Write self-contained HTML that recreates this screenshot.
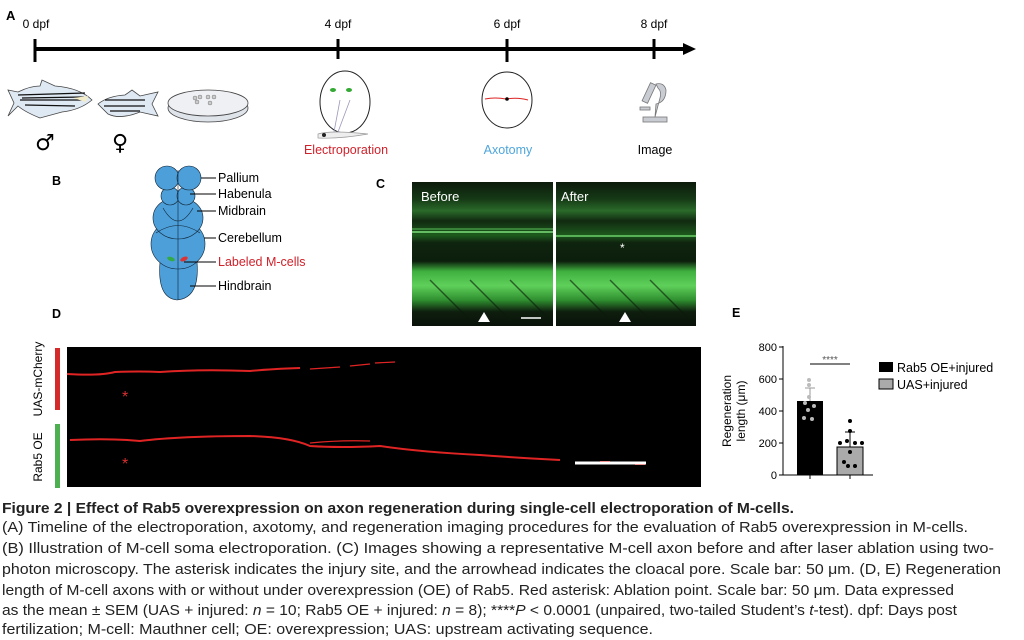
<!DOCTYPE html>
<html><head><meta charset="utf-8"><style>
html,body{margin:0;padding:0;background:#fff;width:1024px;height:640px;overflow:hidden}
svg{display:block;font-family:"Liberation Sans",sans-serif}
</style></head><body>
<svg width="1024" height="640" viewBox="0 0 1024 640">
<text x="6" y="20" font-size="13" font-weight="bold">A</text>
<g font-size="12" text-anchor="middle">
<text x="36" y="28">0 dpf</text><text x="338" y="28">4 dpf</text><text x="507" y="28">6 dpf</text><text x="654" y="28">8 dpf</text>
</g>
<line x1="34" y1="49" x2="685" y2="49" stroke="#000" stroke-width="4"/>
<polygon points="683,43 696,49 683,55" fill="#000"/>
<g stroke="#000" stroke-width="3"><line x1="35" y1="39" x2="35" y2="62"/><line x1="338" y1="39" x2="338" y2="59"/><line x1="507" y1="39" x2="507" y2="62"/><line x1="654" y1="39" x2="654" y2="59"/></g>
<g stroke="#444" stroke-width="0.8">
<path d="M8,90 L18,92 Q30,86 40,86 L42,80 L55,86 Q80,88 92,100 Q80,110 62,112 L40,118 Q25,112 18,106 L8,116 L14,103 Z" fill="#dfe9f3"/>
<path d="M18,95 L85,93 M20,100 L82,100 M25,105 L75,106 M22,98 L84,97" stroke="#111" stroke-width="1.2"/>
<path d="M73,98 L88,96 L86,102 Z" fill="#f3ecc8" stroke="none"/>
<path d="M98,104 Q108,96 125,95 L132,90 L140,96 L158,92 L152,104 L158,116 L140,112 Q120,120 108,114 Z" fill="#dfe9f3"/>
<path d="M105,100 L145,100 M104,106 L145,106 M110,111 L140,111" stroke="#111" stroke-width="1.2"/>
<ellipse cx="208" cy="108" rx="40" ry="14" fill="#dfe3ea"/>
<ellipse cx="208" cy="103" rx="40" ry="13" fill="#eef0f4"/>
</g>
<g fill="#ccc" stroke="#777" stroke-width="0.5"><circle cx="195" cy="98" r="2"/><circle cx="200" cy="97" r="2"/><circle cx="197" cy="102" r="2"/><circle cx="208" cy="97" r="2"/><circle cx="214" cy="97" r="2"/><circle cx="210" cy="103" r="2"/></g>
<text x="45" y="150" font-size="22" text-anchor="middle" font-family="DejaVu Sans">♂</text>
<text x="120" y="150" font-size="22" text-anchor="middle" font-family="DejaVu Sans">♀</text>
<ellipse cx="345" cy="102" rx="25" ry="31" fill="#fff" stroke="#222" stroke-width="1"/>
<path d="M340,100 L334,132 M350,100 L338,132" stroke="#99b" stroke-width="0.8" fill="none"/>
<ellipse cx="333" cy="90" rx="3" ry="2" fill="#3a3"/><ellipse cx="349" cy="90" rx="3" ry="2" fill="#3a3"/>
<path d="M318,134 Q330,130 368,134 Q340,139 318,138 Z" fill="#eee" stroke="#999" stroke-width="0.7"/>
<circle cx="324" cy="135" r="2" fill="#222"/>
<text x="346" y="154" font-size="12.5" text-anchor="middle" fill="#d0222b">Electroporation</text>
<ellipse cx="507" cy="100" rx="25" ry="28" fill="#fff" stroke="#222" stroke-width="1"/>
<path d="M485,99 Q495,97 506,99 Q518,97 528,100" stroke="#d22" stroke-width="1" fill="none"/>
<circle cx="507" cy="99" r="1.8" fill="#000"/>
<text x="508" y="154" font-size="12.5" text-anchor="middle" fill="#4ea6dc">Axotomy</text>
<g stroke="#777" stroke-width="0.8" fill="#c9ccd2">
<rect x="643" y="117" width="24" height="5"/>
<path d="M655,117 L656,104 Q666,102 666,90 Q664,82 656,84 L658,88 Q662,92 660,98 Z"/>
<rect x="646" y="83" width="6" height="20" transform="rotate(25 649 93)"/>
<rect x="640" y="107" width="10" height="3"/>
</g>
<text x="655" y="154" font-size="12.5" text-anchor="middle">Image</text>
<text x="52" y="185" font-size="12.5" font-weight="bold">B</text>
<g fill="#4c9fd9" stroke="#123" stroke-width="0.6">
<path d="M160,262 Q157,298 177,300 Q200,298 197,262 Z"/>
<ellipse cx="178" cy="244" rx="27" ry="25"/>
<ellipse cx="178" cy="218" rx="25" ry="21"/>
<circle cx="170" cy="196" r="9"/><circle cx="186" cy="196" r="9"/>
<circle cx="167" cy="178" r="12"/><circle cx="189" cy="178" r="12"/>
<path d="M178,170 L178,300 M156,233 Q178,218 200,233 M163,208 Q178,234 193,208" fill="none"/>
</g>
<ellipse cx="171" cy="259" rx="4" ry="2" fill="#3a4" transform="rotate(20 171 259)"/>
<ellipse cx="184" cy="259" rx="4" ry="2" fill="#d33" transform="rotate(-25 184 259)"/>
<g stroke="#000" stroke-width="1"><line x1="201" y1="178" x2="216" y2="178"/><line x1="190" y1="194" x2="216" y2="194"/><line x1="197" y1="211" x2="216" y2="211"/><line x1="204" y1="238" x2="216" y2="238"/><line x1="184" y1="262" x2="216" y2="262"/><line x1="190" y1="286" x2="216" y2="286"/></g>
<g font-size="12.5"><text x="218" y="182">Pallium</text><text x="218" y="198">Habenula</text><text x="218" y="215">Midbrain</text><text x="218" y="242">Cerebellum</text><text x="218" y="266" fill="#d0222b">Labeled M-cells</text><text x="218" y="290">Hindbrain</text></g>
<text x="376" y="188" font-size="12.5" font-weight="bold">C</text>
<defs>
<linearGradient id="cg" x1="0" y1="0" x2="0" y2="1">
<stop offset="0" stop-color="#0c1a0c"/><stop offset="0.12" stop-color="#163a16"/><stop offset="0.2" stop-color="#2a6a2a"/><stop offset="0.27" stop-color="#112a11"/><stop offset="0.37" stop-color="#1d5a1d"/><stop offset="0.42" stop-color="#0f240f"/><stop offset="0.55" stop-color="#0c1e0c"/><stop offset="0.62" stop-color="#3fb03f"/><stop offset="0.72" stop-color="#5fd05a"/><stop offset="0.82" stop-color="#2f8f2f"/><stop offset="0.9" stop-color="#0e1e0e"/><stop offset="1" stop-color="#0a120a"/>
</linearGradient>
</defs>
<rect x="412" y="182" width="141" height="144" fill="url(#cg)"/>
<rect x="556" y="182" width="140" height="144" fill="url(#cg)"/>
<g stroke="#0a1a0a" stroke-width="1.5" opacity="0.6"><line x1="430" y1="280" x2="470" y2="320"/><line x1="470" y1="280" x2="510" y2="320"/><line x1="510" y1="280" x2="550" y2="320"/><line x1="570" y1="280" x2="610" y2="320"/><line x1="610" y1="280" x2="650" y2="320"/><line x1="650" y1="280" x2="690" y2="320"/></g>
<line x1="412" y1="232" x2="553" y2="232" stroke="#7de07a" stroke-width="1.5"/>
<line x1="412" y1="229" x2="553" y2="229" stroke="#5cc05a" stroke-width="1"/>
<line x1="556" y1="236" x2="696" y2="236" stroke="#6cd06a" stroke-width="1.5"/>
<g fill="#fff" font-size="13"><text x="421" y="201">Before</text><text x="561" y="201">After</text></g>
<text x="620" y="252" fill="#fff" font-size="12">*</text>
<polygon points="484,312 478,322 490,322" fill="#fff"/><polygon points="625,312 619,322 631,322" fill="#fff"/>
<line x1="521" y1="318" x2="541" y2="318" stroke="#fff" stroke-width="1.5"/>
<text x="52" y="318" font-size="12.5" font-weight="bold">D</text>
<rect x="67" y="347" width="634" height="140" fill="#000"/>
<rect x="55" y="348" width="5" height="62" fill="#d42a2a"/>
<rect x="55" y="424" width="5" height="64" fill="#4caf50"/>
<text transform="translate(42,379) rotate(-90)" font-size="12" text-anchor="middle">UAS-mCherry</text>
<text transform="translate(42,457) rotate(-90)" font-size="12" text-anchor="middle">Rab5 OE</text>
<g stroke="#e02424" fill="none" stroke-width="2">
<path d="M67,374 Q100,376 115,372 Q140,371 160,372 Q200,369 250,371 Q270,369 300,368"/>
<path d="M310,369 L340,367 M350,366 L370,364 M375,363 L395,362" stroke-width="1.2"/>
<path d="M70,440 Q110,438 140,441 Q180,436 250,436 Q290,437 310,446 Q340,448 380,446 Q420,452 480,455 Q520,458 560,460 M600,462 L610,462 M635,464 L645,464"/>
<path d="M310,443 Q340,440 370,441" stroke-width="1.2"/>
</g>
<g fill="#d83030" font-size="16"><text x="122" y="402">*</text><text x="122" y="469">*</text></g>
<line x1="575" y1="463" x2="646" y2="463" stroke="#fff" stroke-width="3"/>
<text x="732" y="317" font-size="12.5" font-weight="bold">E</text>
<line x1="783" y1="346" x2="783" y2="475" stroke="#000"/>
<line x1="783" y1="475" x2="873" y2="475" stroke="#000"/>
<g font-size="11" text-anchor="end"><text x="777" y="351">800</text><text x="777" y="383">600</text><text x="777" y="415">400</text><text x="777" y="447">200</text><text x="777" y="479">0</text></g>
<g stroke="#000"><line x1="779" y1="347" x2="783" y2="347"/><line x1="779" y1="379" x2="783" y2="379"/><line x1="779" y1="411" x2="783" y2="411"/><line x1="779" y1="443" x2="783" y2="443"/><line x1="779" y1="475" x2="783" y2="475"/></g>
<text transform="translate(731,411) rotate(-90)" font-size="12" text-anchor="middle">Regeneration</text>
<text transform="translate(745,411) rotate(-90)" font-size="12" text-anchor="middle">length (μm)</text>
<rect x="797" y="401" width="26" height="74" fill="#000"/>
<rect x="837" y="447" width="26" height="28" fill="#aaa" stroke="#000"/>
<g stroke="#999" stroke-width="1"><line x1="810" y1="388" x2="810" y2="401"/><line x1="805" y1="388" x2="815" y2="388"/></g>
<g stroke="#000"><line x1="850" y1="432" x2="850" y2="447"/><line x1="845" y1="432" x2="855" y2="432"/><line x1="810" y1="475" x2="810" y2="479"/><line x1="850" y1="475" x2="850" y2="479"/><line x1="810" y1="364" x2="850" y2="364"/></g>
<text x="830" y="363" font-size="10" text-anchor="middle" fill="#555">****</text>
<g fill="#bbb"><circle cx="809" cy="380" r="2"/><circle cx="809" cy="385" r="2"/><circle cx="805" cy="403" r="2"/><circle cx="814" cy="406" r="2"/><circle cx="809" cy="397" r="2"/><circle cx="804" cy="418" r="2"/><circle cx="812" cy="419" r="2"/><circle cx="808" cy="410" r="2"/></g>
<g fill="#000"><circle cx="850" cy="421" r="2"/><circle cx="850" cy="431" r="2"/><circle cx="840" cy="443" r="2"/><circle cx="847" cy="441" r="2"/><circle cx="855" cy="443" r="2"/><circle cx="862" cy="443" r="2"/><circle cx="850" cy="452" r="2"/><circle cx="844" cy="462" r="2"/><circle cx="848" cy="466" r="2"/><circle cx="855" cy="466" r="2"/></g>
<rect x="879" y="362" width="14" height="10" fill="#000"/>
<rect x="879" y="379" width="14" height="10" fill="#aaa" stroke="#000"/>
<g font-size="12.5"><text x="897" y="372">Rab5 OE+injured</text><text x="897" y="389">UAS+injured</text></g>
<g font-size="15" fill="#222">
<text x="2" y="513" font-weight="bold" textLength="792" lengthAdjust="spacingAndGlyphs">Figure 2  |  Effect of Rab5 overexpression on axon regeneration during single-cell electroporation of M-cells.</text>
<text x="2" y="532" textLength="966" lengthAdjust="spacingAndGlyphs">(A) Timeline of the electroporation, axotomy, and regeneration imaging procedures for the evaluation of Rab5 overexpression in M-cells.</text>
<text x="2" y="553" textLength="992" lengthAdjust="spacingAndGlyphs">(B) Illustration of M-cell soma electroporation. (C) Images showing a representative M-cell axon before and after laser ablation using two-</text>
<text x="2" y="574" textLength="999" lengthAdjust="spacingAndGlyphs">photon microscopy. The asterisk indicates the injury site, and the arrowhead indicates the cloacal pore. Scale bar: 50 μm. (D, E) Regeneration</text>
<text x="2" y="595" textLength="952" lengthAdjust="spacingAndGlyphs">length of M-cell axons with or without under overexpression (OE) of Rab5. Red asterisk: Ablation point. Scale bar: 50 μm. Data expressed</text>
<text x="2" y="615" textLength="955" lengthAdjust="spacingAndGlyphs">as the mean ± SEM (UAS + injured: <tspan font-style="italic">n</tspan> = 10; Rab5 OE + injured: <tspan font-style="italic">n</tspan> = 8); ****<tspan font-style="italic">P</tspan> &lt; 0.0001 (unpaired, two-tailed Student’s <tspan font-style="italic">t</tspan>-test). dpf: Days post</text>
<text x="2" y="634" textLength="651" lengthAdjust="spacingAndGlyphs">fertilization; M-cell: Mauthner cell; OE: overexpression; UAS: upstream activating sequence.</text>
</g>
</svg>
</body></html>
